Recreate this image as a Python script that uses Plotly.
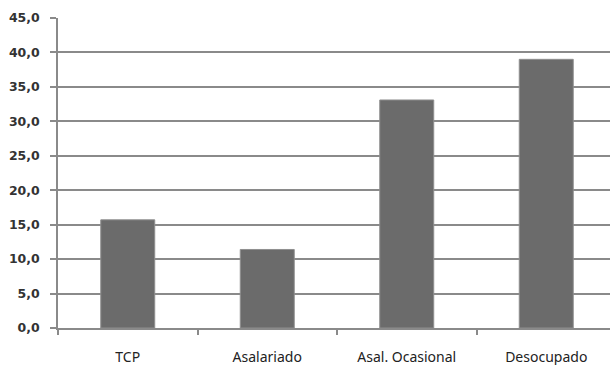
import plotly.graph_objects as go

categories = ["TCP", "Asalariado", "Asal. Ocasional", "Desocupado"]
values = [15.7, 11.4, 33.1, 39.0]
y_tick_vals = [0, 5, 10, 15, 20, 25, 30, 35, 40, 45]
y_tick_text = ["0,0", "5,0", "10,0", "15,0", "20,0", "25,0", "30,0", "35,0", "40,0", "45,0"]

grid_col = "#8a8a8a"

fig = go.Figure(go.Bar(
    x=categories, y=values,
    marker=dict(color="#6b6b6b", line=dict(color="#8f8f8f", width=1)),
    hoverinfo="skip",
))

fig.update_layout(
    width=610, height=365,
    margin=dict(l=58, r=0, t=18, b=37, autoexpand=False),
    paper_bgcolor="white", plot_bgcolor="white",
    bargap=0.613, showlegend=False,
)
fig.update_xaxes(
    type="category", range=[-0.5, 3.457], automargin=False,
    showline=True, linecolor=grid_col, linewidth=1.5,
    ticks="outside", tickson="boundaries", ticklen=5, tickcolor=grid_col, tickwidth=1.5,
    showgrid=False,
    tickfont=dict(family="Noto Sans", size=14, color="#222"),
    ticklabelstandoff=15,
)
fig.update_yaxes(
    range=[0, 45], tickvals=y_tick_vals, ticktext=y_tick_text, automargin=False,
    showline=True, linecolor=grid_col, linewidth=1.5,
    ticks="outside", ticklen=6, tickcolor=grid_col, tickwidth=1.5,
    showgrid=True, gridcolor=grid_col, gridwidth=1.5, zeroline=False,
    tickfont=dict(family="DejaVu Sans", size=12.5, color="#333", weight="bold"),
    ticklabelstandoff=8,
)

fig.write_html(
    "out.html",
    config={"displayModeBar": False},
    post_script="document.body.style.margin='0';document.body.style.overflow='hidden';",
)
